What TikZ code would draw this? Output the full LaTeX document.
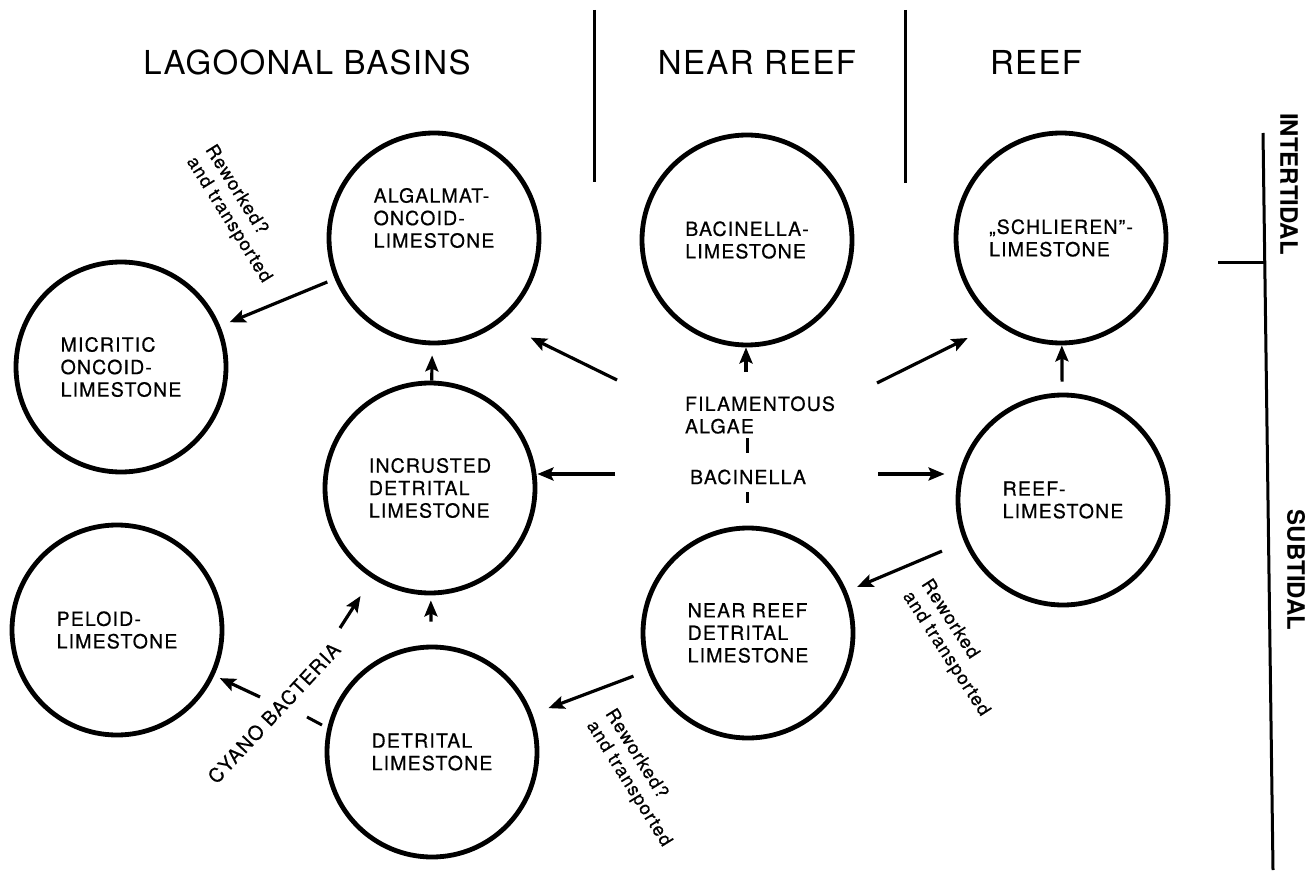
\documentclass[tikz,border=0pt]{standalone}
\usepackage{fontspec}
\setmainfont{TeX Gyre Heros}
\newfontfamily\faciesfont{TeX Gyre Heros}[LetterSpace=6, FakeBold=0.6]
\newfontfamily\zonefont{TeX Gyre Heros}[LetterSpace=4]
\usetikzlibrary{positioning,arrows.meta}

\begin{document}
\begin{tikzpicture}[
    x=1pt, y=-1pt,
    facies/.style={circle, draw, line width=4.8pt, minimum size=210pt, inner sep=0pt, align=left, font=\faciesfont\fontsize{19.5}{22.5}\selectfont},
    arrow/.style={-{Stealth[length=16pt,width=13pt,inset=3pt]}, line width=3.2pt},
    zone/.style={font=\zonefont\fontsize{33}{40}\selectfont},
    tide/.style={font=\bfseries\fontsize{24}{28}\selectfont, rotate=-90},
    note/.style={font=\faciesfont\fontsize{18.5}{22}\selectfont, align=left, inner sep=0pt},
    hub/.style={font=\faciesfont\fontsize{19.5}{22.5}\selectfont, align=left, inner sep=0pt},
    rule/.style={line width=3pt}
]
    \useasboundingbox (0,0) rectangle (1316,885);

    % Zone headings
    \node[zone] (lagoon) at (307,62) {LAGOONAL BASINS};
    \node[zone] (nearreef) at (757,62) {NEAR REEF};
    \node[zone] (reefzone) at (1036,62) {REEF};
    \draw[rule] (594,10) -- (594,182);
    \draw[rule] (905,10) -- (905,183);

    % Tidal scale
    \draw[rule] (1263,133) -- (1273,870);
    \draw[rule] (1218,262) -- (1265,262);
    \node[tide] (inter) at (1289,184) {INTERTIDAL};
    \node[tide] (sub) at (1296,570) {SUBTIDAL};

    % Facies
    \node[facies, label={[font=\faciesfont\fontsize{19.5}{22.5}\selectfont, align=left, yshift=20pt]center:ALGALMAT-\\ONCOID-\\LIMESTONE}] (alg) at (434,238) {};
    \node[facies] (mic) at (121,367) {MICRITIC\\ONCOID-\\LIMESTONE};
    \node[facies] (incr) at (430,488) {INCRUSTED\\DETRITAL\\LIMESTONE};
    \node[facies] (pel) at (117,630) {PELOID-\\LIMESTONE};
    \node[facies] (det) at (432,752) {DETRITAL\\LIMESTONE};
    \node[facies] (bac) at (747,240) {BACINELLA-\\LIMESTONE};
    \node[facies] (nr) at (748,633) {NEAR REEF\\DETRITAL\\LIMESTONE};
    \node[facies] (schl) at (1061,238) {„SCHLIEREN”-\\LIMESTONE};
    \node[facies] (reef) at (1063,500) {REEF-\\LIMESTONE};

    % Centre
    \node[hub] (fil) at (760,415) {FILAMENTOUS\\ALGAE};
    \node[hub] (bacl) at (748,477) {BACINELLA};
    \draw[rule] (747,438) -- (747,453);
    \draw[rule] (747,492) -- (747,503);
    \node[hub, rotate=47] (cyano) at (274,713) {CYANO BACTERIA};
    \draw[rule] (307,717) -- (322,725);

    % Notes
    \node[note, rotate=-58] (rw-alg) at (238,214) {Reworked?\\and transported};
    \node[note, rotate=-58] (rw-nr) at (638,778) {Reworked?\\and transported};
    \node[note, rotate=-57] (rw-reef) at (955,648) {Reworked\\and transported};

    % Arrow starts
    \coordinate (fa-alg) at (617,380);
    \coordinate (fa-bac) at (746,372);
    \coordinate (fa-schl) at (877,383);
    \coordinate (bc-incr) at (615,474);
    \coordinate (bc-reef) at (878,474);
    \coordinate (cy-incr) at (340,628);
    \coordinate (cy-pel) at (260,697);

    % Arrows
    \draw[arrow, shorten <=8pt, shorten >=10pt] (alg) -- (mic);
    \draw[arrow, shorten >=10pt] (incr) -- (alg);
    \draw[arrow, shorten <=23pt, shorten >=5pt] (det) -- (incr);
    \draw[arrow, shorten >=34pt] (fa-alg) -- (alg.-52);
    \draw[arrow] (fa-bac) -- (fa-bac |- bac.south);
    \draw[arrow, shorten >=32pt] (fa-schl) -- (schl.-127);
    \draw[arrow, shorten <=11pt] (reef) -- (schl);
    \draw[arrow] (bc-incr) -- (bc-incr -| incr.east);
    \draw[arrow, shorten >=11pt] (bc-reef) -- (bc-reef -| reef.west);
    \draw[arrow, shorten <=24pt, shorten >=11pt] (reef) -- (nr);
    \draw[arrow, shorten <=15pt, shorten >=17pt] (nr) -- (det);
    \draw[arrow, shorten >=21pt] (cy-incr) -- (incr);
    \draw[arrow, shorten >=6pt] (cy-pel) -- (pel);
\end{tikzpicture}
\end{document}
